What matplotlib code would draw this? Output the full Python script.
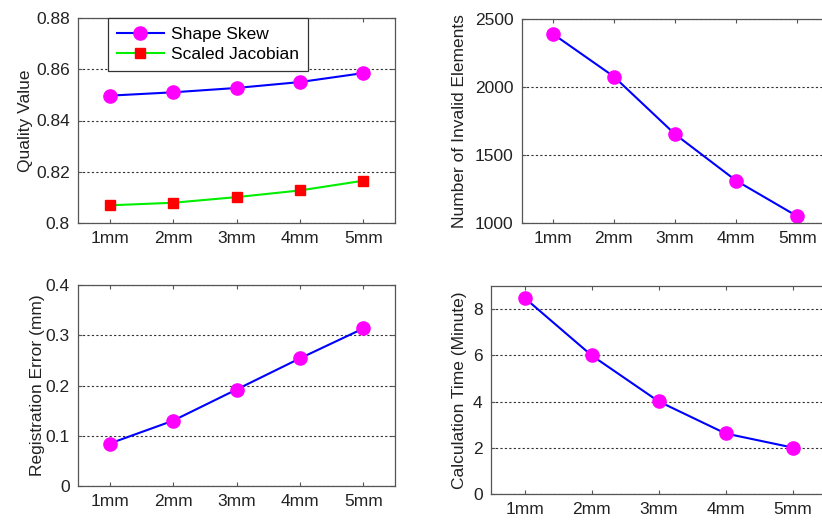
import matplotlib
matplotlib.use("Agg")
import matplotlib.pyplot as plt
from matplotlib.ticker import FuncFormatter

plt.rcParams['font.family'] = ['Liberation Sans', 'DejaVu Sans']

categories = ['1mm', '2mm', '3mm', '4mm', '5mm']
shape_skew = [0.8497, 0.8510, 0.8527, 0.8550, 0.8585]
scaled_jacobian = [0.8069, 0.8079, 0.8101, 0.8127, 0.8165]
invalid_elements = [2392, 2077, 1653, 1311, 1049]
registration_error = [0.0845, 0.130, 0.192, 0.254, 0.3135]
calc_time = [8.49, 6.0, 4.01, 2.62, 2.01]

fig = plt.figure(figsize=(8.22, 5.23), dpi=100)
W, H = 822.0, 523.0

def mk_axes(l, r, t, b):
    return fig.add_axes([l / W, (H - b) / H, (r - l) / W, (b - t) / H])

ax1 = mk_axes(78, 395, 18, 223)
ax2 = mk_axes(522, 828, 19, 223)
ax3 = mk_axes(78, 395, 285, 486)
ax4 = mk_axes(491, 826, 286, 494)

x = list(range(1, len(categories) + 1))
fs = 12.5
fmt = FuncFormatter(lambda v, p: '%g' % round(v, 6))

def style(ax, ylim, yticks, ylabel, lpad=4):
    ax.set_xlim(0.5, 5.5)
    ax.set_ylim(*ylim)
    ax.set_xticks(x)
    ax.set_xticklabels(categories, fontsize=fs, color='#222222')
    ax.set_yticks(yticks)
    ax.yaxis.set_major_formatter(fmt)
    ax.tick_params(direction='in', top=True, right=True, length=3, width=0.8,
                   colors='#555555', labelcolor='#222222', labelsize=fs, pad=6)
    for s in ax.spines.values():
        s.set_color('#555555')
        s.set_linewidth(0.9)
    ax.yaxis.grid(True, linestyle=(0, (2, 2)), color='#333333', linewidth=0.8)
    ax.set_axisbelow(True)
    ax.set_ylabel(ylabel, fontsize=fs, color='#222222', labelpad=lpad)

style(ax1, (0.80, 0.88), [0.80, 0.82, 0.84, 0.86, 0.88], 'Quality Value', lpad=2)
ax1.plot(x, shape_skew, color='blue', lw=1.5, marker='o', ms=9.5,
         mfc='magenta', mec='magenta', label='Shape Skew')
ax1.plot(x, scaled_jacobian, color='#00ee00', lw=1.5, marker='s', ms=7.5,
         mfc='red', mec='red', label='Scaled Jacobian')
leg = ax1.legend(loc='upper left', bbox_to_anchor=((108 - 78) / 317.0, 1.0),
                 borderaxespad=0, fontsize=fs, fancybox=False, framealpha=1,
                 edgecolor='#333333', handlelength=2.7, borderpad=0.5,
                 labelspacing=0.3, handletextpad=0.45)
leg.get_frame().set_linewidth(0.9)

style(ax2, (1000, 2500), [1000, 1500, 2000, 2500], 'Number of Invalid Elements', lpad=6)
ax2.plot(x, invalid_elements, color='blue', lw=1.5, marker='o', ms=9.5,
         mfc='magenta', mec='magenta')

style(ax3, (0, 0.4), [0, 0.1, 0.2, 0.3, 0.4], 'Registration Error (mm)', lpad=0)
ax3.plot(x, registration_error, color='blue', lw=1.5, marker='o', ms=9.5,
         mfc='magenta', mec='magenta')

style(ax4, (0, 9), [0, 2, 4, 6, 8], 'Calculation Time (Minute)', lpad=4)
ax4.plot(x, calc_time, color='blue', lw=1.5, marker='o', ms=9.5,
         mfc='magenta', mec='magenta')

fig.savefig('out.png', dpi=100)
